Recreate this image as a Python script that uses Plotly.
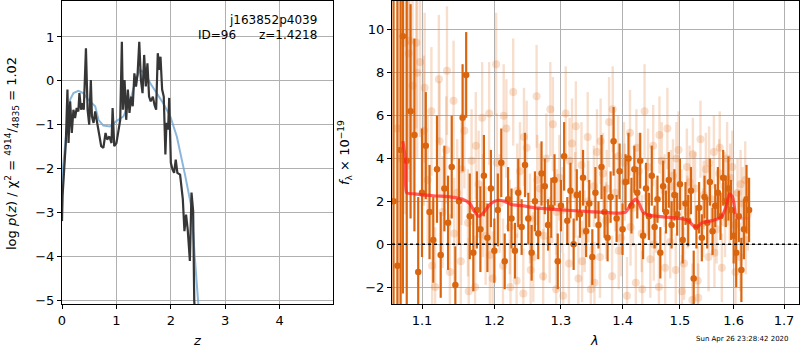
import plotly.graph_objects as go

# ---------------- left panel: p(z) ----------------
pz_z = [0.00, 0.01, 0.04, 0.07, 0.10, 0.12, 0.15, 0.18, 0.21, 0.24, 0.27, 0.30, 0.32, 0.35, 0.38,
        0.40, 0.44, 0.47, 0.50, 0.53, 0.55, 0.58, 0.61, 0.65, 0.69, 0.72, 0.76, 0.80, 0.83, 0.87,
        0.91, 0.93, 0.96, 1.00, 1.03, 1.07, 1.10, 1.12, 1.15, 1.18, 1.21, 1.24, 1.27, 1.30, 1.33,
        1.36, 1.39, 1.42, 1.45, 1.48, 1.51, 1.54, 1.57, 1.60, 1.63, 1.67, 1.70, 1.73, 1.76, 1.79,
        1.81, 1.84, 1.87, 1.90, 1.92, 1.95, 1.97, 2.00, 2.03, 2.06, 2.09, 2.12, 2.17, 2.22, 2.25,
        2.28, 2.31, 2.35, 2.38, 2.41, 2.43, 2.46, 2.49]
pz_logp = [-3.2, -2.63, -2.02, -1.42, -0.20, -1.42, -0.47, -1.19, -0.66, -0.85, -0.62, -0.70, -0.28, -0.66, -0.51,
           -0.66, 0.74, -0.66, -1.00, 0.02, -0.81, -0.96, -0.70, -1.04, -1.27, -1.49, -1.53, -1.19, -1.34, -1.27,
           -1.42, -0.62, -1.49, -1.42, -1.23, -0.89, 0.89, -0.66, 0.02, -0.89, -0.20, -0.73, -0.36, -0.58, 0.17,
           -0.13, 0.17, 0.89, 0.02, -0.28, 0.59, -0.13, 0.40, -0.36, -0.47, -0.36, -0.55, -0.66, 0.63, 0.25,
           0.55, -0.20, -0.36, -1.68, -0.96, -1.11, -0.39, -1.87, -2.02, -2.10, -1.80, -2.10, -2.14, -2.70, -3.43,
           -3.05, -3.39, -4.11, -2.55, -2.97, -5.02, -5.40, -6.00]

smooth_z = [0.00, 0.02, 0.09, 0.15, 0.21, 0.30, 0.39, 0.48, 0.61, 0.67, 0.76, 0.88, 1.00, 1.13, 1.25,
            1.34, 1.43, 1.53, 1.62, 1.74, 1.86, 1.99, 2.11, 2.26, 2.38, 2.44, 2.51, 2.56]
smooth_logp = [-3.0, -1.95, -1.04, -0.43, -0.28, -0.23, -0.28, -0.43, -0.58, -0.89, -1.02, -1.04, -0.92, -0.81, -0.47,
               -0.05, 0.25, 0.17, -0.05, -0.28, -0.51, -0.81, -1.27, -2.14, -2.89, -4.02, -5.05, -6.0]

# ---------------- right panel: spectrum ----------------
dark_wave = [1.063, 1.068, 1.072, 1.075, 1.080, 1.085, 1.090, 1.095, 1.100, 1.105, 1.110, 1.115, 1.120, 1.125,
             1.130, 1.135, 1.140, 1.145, 1.150, 1.155, 1.160, 1.165, 1.170, 1.175, 1.180, 1.185, 1.190, 1.195,
             1.200, 1.205, 1.210, 1.215, 1.220, 1.225, 1.230, 1.235, 1.240, 1.245, 1.250, 1.255, 1.260, 1.265,
             1.270, 1.275, 1.280, 1.285, 1.290, 1.295, 1.300, 1.305, 1.310, 1.315, 1.320, 1.325, 1.330, 1.335,
             1.340, 1.345, 1.350, 1.355, 1.360, 1.365, 1.370, 1.375, 1.380, 1.385, 1.390, 1.395, 1.400, 1.405,
             1.410, 1.415, 1.420, 1.425, 1.430, 1.435, 1.440, 1.445, 1.450, 1.455, 1.460, 1.465, 1.470, 1.475,
             1.480, 1.485, 1.490, 1.495, 1.500, 1.505, 1.510, 1.515, 1.520, 1.525, 1.530, 1.535, 1.540, 1.545,
             1.550, 1.555, 1.560, 1.565, 1.570, 1.575, 1.580, 1.585, 1.590, 1.595, 1.600, 1.605, 1.610, 1.615,
             1.620, 1.625, 1.630]
dark_flux = [2.0, -1.0, 4.4, 9.7, 3.9, 6.2, 5.1, -1.3, 2.4, 4.6, 1.5, 0.2, 3.5, -0.5,
             2.6, 1.0, 3.6, -1.9, 2.0, 5.9, 7.9, 1.3, -0.4, 1.6, 0.7, 3.2, 0.3, 2.6,
             -0.3, 1.6, 3.8, -0.8, 2.1, 1.2, -0.3, 2.4, 0.8, 3.7, 1.2, -0.4, 2.0, 0.5,
             3.3, 2.7, 0.9, 1.7, 3.0, -0.8, 1.8, 4.1, 1.1, 2.5, 0.0, 2.3, 1.4, 3.1,
             0.6, 1.9, -0.6, 2.4, 0.9, 3.6, 1.5, 0.3, 2.2, 4.8, 1.2, 3.4, 0.7, 2.9,
             4.0, 1.8, 3.5, 2.4, 3.9, 0.4, 2.6, 1.3, 3.2, 0.8, 2.1, -0.4, 2.7, 1.5,
             3.0, 0.9, 2.3, 1.4, 2.8, 0.2, 1.9, 1.1, 2.5, -1.6, 0.8, 1.7, 0.3, 2.2,
             1.0, 2.9, 0.6, 1.8, 2.4, 1.3, 3.1, 2.0, 2.6, 1.6, 0.4, -0.4, 1.3, -1.2,
             0.7, 2.1, 1.6]
dark_err = [15, 14, 12, 12, 9, 5, 4.5, 3.5, 3, 2.5, 2.2, 2, 2.5, 2,
            2, 2.2, 2.4, 1.8, 2, 2.5, 2.0, 2, 1.8, 1.8, 2, 1.9, 1.6, 1.8,
            1.5, 1.7, 1.6, 1.3, 1.5, 1.4, 1.3, 1.6, 1.3, 1.5, 1.2, 1.3, 1.4, 1.2,
            1.5, 1.3, 1.2, 1.4, 1.2, 1.3, 1.2, 1.6, 1.1, 1.3, 1.2, 1.2, 1.1, 1.3,
            1.2, 1.1, 1.3, 1.2, 1.1, 1.5, 1.2, 1.1, 1.2, 1.6, 1.1, 1.3, 1.2, 1.3,
            1.2, 1.3, 1.1, 1.2, 1.3, 1.1, 1.2, 1.1, 1.4, 1.0, 1.1, 1.2, 1.2, 1.0,
            1.3, 1.1, 1.2, 1.0, 1.2, 1.1, 1.0, 1.2, 1.1, 1.3, 1.0, 1.2, 1.1, 1.0,
            1.2, 1.1, 1.1, 1.0, 1.2, 1.1, 1.3, 1.2, 1.5, 1.4, 1.3, 1.6, 1.2, 1.5,
            1.4, 1.6, 1.5]

light_wave = [1.0675, 1.0725, 1.0775, 1.0825, 1.0875, 1.0925, 1.0975, 1.1025, 1.1075, 1.1125, 1.1175, 1.1225,
              1.1275, 1.1325, 1.1375, 1.1425, 1.1475, 1.1525, 1.1575, 1.1625, 1.1675, 1.1725, 1.1775, 1.1825,
              1.1875, 1.1925, 1.1975, 1.2025, 1.2075, 1.2125, 1.2175, 1.2225, 1.2275, 1.2325, 1.2375, 1.2425,
              1.2475, 1.2525, 1.2575, 1.2625, 1.2675, 1.2725, 1.2775, 1.2825, 1.2875, 1.2925, 1.2975, 1.3025,
              1.3075, 1.3125, 1.3175, 1.3225, 1.3275, 1.3325, 1.3375, 1.3425, 1.3475, 1.3525, 1.3575, 1.3625,
              1.3675, 1.3725, 1.3775, 1.3825, 1.3875, 1.3925, 1.3975, 1.4025, 1.4075, 1.4125, 1.4175, 1.4225,
              1.4275, 1.4325, 1.4375, 1.4425, 1.4475, 1.4525, 1.4575, 1.4625, 1.4675, 1.4725, 1.4775, 1.4825,
              1.4875, 1.4925, 1.4975, 1.5025, 1.5075, 1.5125, 1.5175, 1.5225, 1.5275, 1.5325, 1.5375, 1.5425,
              1.5475, 1.5525, 1.5575, 1.5625, 1.5675, 1.5725, 1.5775, 1.5825, 1.5875, 1.5925, 1.5975, 1.6025,
              1.6075, 1.6125, 1.6175, 1.6225, 1.6275]
light_flux = [5.4, 4.0, 9.4, 8.9, 7.4, 9.4, 8.5, 5.3, 3.0, 6.2, -2.0, 7.7,
              1.5, 4.4, -1.3, 6.7, 2.4, -0.8, 5.3, 1.0, 3.9, -2.0, 2.8, 5.9,
              0.4, 6.1, -1.6, 8.4, 1.9, -1.0, 5.4, 0.8, 7.1, -1.7, 3.4, -2.3,
              4.5, 1.2, -0.6, 6.9, 2.6, -1.5, 4.0, 0.2, 5.6, -2.1, 3.1, 1.6,
              6.1, -0.9, 4.7, 2.3, -1.6, 3.7, 0.6, 5.0, -2.1, 2.7, 4.3, -0.6,
              3.3, 1.1, 5.7, -1.5, 2.4, 4.1, 0.3, 3.8, -2.4, 5.2, 1.7, -1.8,
              3.4, 0.5, 6.2, 2.2, -0.7, 4.6, 1.3, -2.0, 3.9, 2.5, 5.4, 0.1,
              3.2, -1.2, 4.4, 1.8, -0.9, 3.6, 2.9, -2.6, 2.6, -1.7, 4.9, 1.0,
              3.5, -0.6, 2.1, 4.3, 0.7, 3.3, -1.1, 2.7, 4.0, 1.6, 3.6, 0.9,
              2.4, -0.6, 1.9, 3.0, 1.4]
light_err = [14, 12, 8, 6, 5, 4, 3.5, 3.5, 3, 3, 2.8, 3,
             2.6, 2.5, 2.7, 2.8, 2.5, 2.6, 2.7, 2.5, 2.4, 2.4, 2.5, 2.6,
             2.3, 2.4, 2.2, 2.4, 2.3, 2.2, 2.3, 2.2, 2.5, 2.2, 2.3, 2.1,
             2.2, 2.1, 2.1, 2.4, 2.1, 2.2, 2.1, 2.0, 2.2, 2.1, 2.0, 2.0,
             2.2, 2.0, 2.1, 2.0, 2.0, 2.0, 1.9, 2.1, 2.0, 1.9, 2.0, 1.9,
             1.9, 1.8, 2.1, 1.9, 1.8, 1.9, 1.8, 1.9, 1.8, 2.0, 1.8, 1.8,
             1.8, 1.8, 2.2, 1.8, 1.8, 1.9, 1.7, 1.8, 1.8, 1.7, 1.9, 1.7,
             1.7, 1.7, 1.8, 1.7, 1.7, 1.8, 1.7, 1.7, 1.7, 1.6, 1.8, 1.6,
             1.7, 1.6, 1.6, 1.7, 1.6, 1.6, 1.6, 1.6, 1.7, 1.6, 1.7, 1.6,
             1.6, 1.6, 1.7, 1.8, 1.7]

light2_wave = [1.0835, 1.0935, 1.1035, 1.1135, 1.1235, 1.1335, 1.1435, 1.1535, 1.1635, 1.1735, 1.1835,
               1.1935, 1.2035, 1.2135, 1.2235, 1.2335, 1.2435, 1.2535, 1.2635, 1.2735, 1.2835, 1.2935,
               1.3035, 1.3135, 1.3235, 1.3335, 1.3435, 1.3535, 1.3635, 1.3735, 1.3835, 1.3935, 1.4035,
               1.4135, 1.4235, 1.4335, 1.4435, 1.4535, 1.4635, 1.4735, 1.4835, 1.4935, 1.5035, 1.5135,
               1.5235, 1.5335, 1.5435, 1.5535, 1.5635, 1.5735, 1.5835, 1.5935, 1.6035, 1.6135, 1.6235]
light2_flux = [9.5, 8.0, 7.3, -1.0, 4.8, 8.1, 0.5, 3.5, -2.2, 4.6, 1.8,
               -0.5, 3.8, 6.0, -2.0, 2.5, 5.0, -1.2, 3.0, 0.4, 6.3, 1.5,
               -2.4, 3.9, 5.5, -0.8, 2.0, -1.8, 4.8, 2.6, 6.3, -0.3, 2.9,
               0.8, 4.5, -2.1, 3.6, 0.0, 5.1, -1.1, 2.7, 4.0, -2.2, 1.5,
               4.2, -2.5, 2.3, 3.8, -0.4, 4.5, 1.0, 3.1, -1.3, 2.8, 0.2]
light2_err = [6, 4, 3.5, 3, 2.8, 3, 2.6, 2.6, 2.5, 2.5, 2.4,
              2.3, 2.3, 2.4, 2.2, 2.2, 2.3, 2.1, 2.1, 2.1, 2.2, 2.0,
              2.0, 2.0, 2.1, 1.9, 1.9, 1.9, 2.0, 1.8, 2.0, 1.8, 1.8,
              1.8, 1.8, 1.8, 1.8, 1.7, 1.8, 1.7, 1.7, 1.7, 1.7, 1.7,
              1.7, 1.6, 1.6, 1.7, 1.6, 1.7, 1.6, 1.6, 1.6, 1.6, 1.6]

model_wave = [1.075, 1.078, 1.080, 1.090, 1.100, 1.120, 1.140, 1.155, 1.165, 1.172, 1.178, 1.185, 1.195, 1.205,
              1.215, 1.225, 1.240, 1.260, 1.280, 1.300, 1.330, 1.360, 1.390, 1.405, 1.415, 1.422, 1.428, 1.435,
              1.445, 1.460, 1.480, 1.500, 1.515, 1.525, 1.532, 1.540, 1.560, 1.575, 1.585, 1.592, 1.598, 1.603]
model_flux = [4.8, 4.0, 2.4, 2.35, 2.3, 2.25, 2.2, 2.1, 1.9, 1.5, 1.3, 1.5, 1.9, 2.05,
              2.0, 1.85, 1.8, 1.7, 1.65, 1.6, 1.55, 1.5, 1.45, 1.5, 1.9, 2.1, 1.9, 1.5,
              1.35, 1.3, 1.25, 1.2, 1.1, 0.85, 0.8, 1.0, 1.1, 1.25, 1.7, 2.35, 2.2, 1.4]
tail_wave = [1.603, 1.606, 1.615, 1.632]
tail_flux = [1.4, 1.2, 1.2, 1.2]

x_ticks_z = [0, 1, 2, 3, 4]
y_ticks_p = [-5, -4, -3, -2, -1, 0, 1]
x_ticks_lam = [1.1, 1.2, 1.3, 1.4, 1.5, 1.6, 1.7]
y_ticks_f = [-2, 0, 2, 4, 6, 8, 10]

ORANGE = "#d9650f"
ORANGE_LIGHT = "rgba(224,115,40,0.24)"

fig = go.Figure()

fig.add_trace(go.Scatter(x=smooth_z, y=smooth_logp, mode="lines",
                         line=dict(color="rgba(110,165,210,0.8)", width=2),
                         xaxis="x", yaxis="y", showlegend=False, hoverinfo="skip"))
fig.add_trace(go.Scatter(x=pz_z, y=pz_logp, mode="lines",
                         line=dict(color="#363636", width=2.2),
                         xaxis="x", yaxis="y", showlegend=False, hoverinfo="skip"))

for wv, fl, er in [(light_wave, light_flux, light_err), (light2_wave, light2_flux, light2_err)]:
    fig.add_trace(go.Scatter(x=wv, y=fl, mode="markers",
                             marker=dict(color=ORANGE_LIGHT, size=8, line=dict(width=0)),
                             error_y=dict(type="data", array=er, color=ORANGE_LIGHT,
                                          thickness=2.4, width=0),
                             xaxis="x2", yaxis="y2", showlegend=False, hoverinfo="skip"))
fig.add_trace(go.Scatter(x=dark_wave, y=dark_flux, mode="markers",
                         marker=dict(color=ORANGE, size=6.5, line=dict(width=0)),
                         error_y=dict(type="data", array=dark_err, color=ORANGE,
                                      thickness=2.2, width=0),
                         xaxis="x2", yaxis="y2", showlegend=False, hoverinfo="skip"))
fig.add_trace(go.Scatter(x=model_wave, y=model_flux, mode="lines",
                         line=dict(color="rgba(255,30,30,0.7)", width=3.2, shape="spline", smoothing=0.6),
                         xaxis="x2", yaxis="y2", showlegend=False, hoverinfo="skip"))
fig.add_trace(go.Scatter(x=tail_wave, y=tail_flux, mode="lines",
                         line=dict(color="rgba(255,60,60,0.3)", width=3),
                         xaxis="x2", yaxis="y2", showlegend=False, hoverinfo="skip"))

fig.add_shape(type="line", xref="x2 domain", yref="y2", x0=0, x1=1, y0=0, y1=0,
              line=dict(color="black", width=1.6, dash="dot"), layer="above")

ydom = [46 / 350, 349 / 350]
axis_common = dict(showline=True, linecolor="black", linewidth=1, mirror=True,
                   ticks="outside", ticklen=4, tickcolor="black", automargin=False,
                   showgrid=True, gridcolor="#b0b0b0", gridwidth=1, zeroline=False,
                   tickfont=dict(size=13, color="black"))

fig.update_layout(
    width=800, height=350,
    margin=dict(l=0, r=0, t=0, b=0, autoexpand=False),
    paper_bgcolor="white", plot_bgcolor="white",
    font=dict(family="DejaVu Sans", color="black"),
    showlegend=False,
    xaxis=dict(domain=[62 / 800, 333 / 800], range=[0, 4.98], tickvals=x_ticks_z, anchor="y", **axis_common),
    yaxis=dict(domain=ydom, range=[-5.09, 1.82], tickvals=y_ticks_p, anchor="x", **axis_common),
    xaxis2=dict(domain=[392 / 800, 799 / 800], type="log", range=[0.02572, 0.23826],
                tickvals=x_ticks_lam, ticktext=[str(v) for v in x_ticks_lam], anchor="y2", **axis_common),
    yaxis2=dict(domain=ydom, range=[-2.79, 11.35], tickvals=y_ticks_f, anchor="x2", **axis_common),
)

annotations = [
    dict(text="j163852p4039", x=319 / 800, y=1 - 20 / 350, xanchor="right", yanchor="middle",
         font=dict(size=12, color="black")),
    dict(text="ID=96\u00a0\u00a0\u00a0\u00a0\u00a0\u00a0z=1.4218", x=319 / 800, y=1 - 35 / 350,
         xanchor="right", yanchor="middle", font=dict(size=12, color="black")),
    dict(text="log\u00a0<i>p</i>(<i>z</i>)\u00a0/\u00a0χ<sup>2</sup>\u00a0=\u00a0<sup>4914</sup>/<sub>4835</sub>\u00a0=\u00a01.02",
         x=12 / 800, y=1 - 154 / 350, textangle=-90, xanchor="center", yanchor="middle"),
    dict(text="<i>z</i>", x=197 / 800, y=1 - 340 / 350, xanchor="center", yanchor="middle"),
    dict(text="<i>f</i><sub>λ</sub>\u00a0×\u00a010<sup>−19</sup>", x=345 / 800, y=1 - 153 / 350,
         textangle=-90, xanchor="center", yanchor="middle"),
    dict(text="<i>λ</i>", x=594 / 800, y=1 - 340 / 350, xanchor="center", yanchor="middle"),
    dict(text="Sun Apr 26 23:28:42 2020", x=742 / 800, y=1 - 339 / 350, xanchor="center", yanchor="middle",
         font=dict(size=7, color="black")),
]
for a in annotations:
    a.setdefault("font", dict(size=13, color="black"))
    fig.add_annotation(xref="paper", yref="paper", showarrow=False, **a)

fig.write_html("out.html", config={"displayModeBar": False},
               post_script="document.body.style.margin='0';document.body.style.overflow='hidden';")
